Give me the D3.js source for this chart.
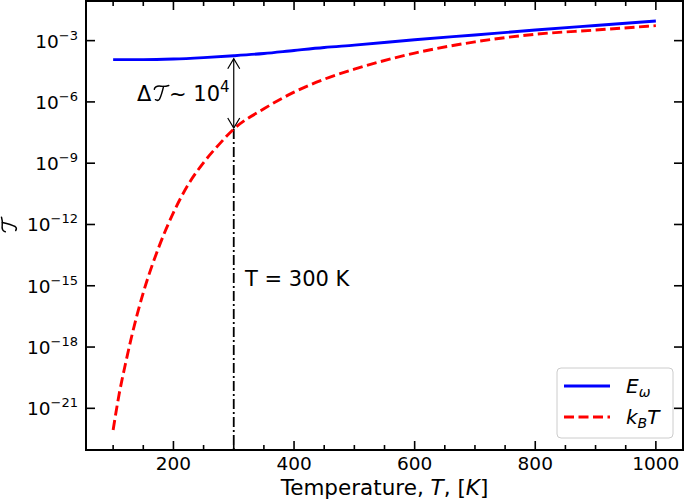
<!DOCTYPE html>
<html>
<head>
<meta charset="utf-8">
<script src="https://cdn.jsdelivr.net/npm/d3@7"></script>
<style>
  body { margin: 0; background: #fff; }
  text { font-family: "DejaVu Sans", sans-serif; fill: #000; }
</style>
</head>
<body>
<svg id="chart" width="685" height="501"></svg>
<script>
// values
var temps = [100, 150, 200, 250, 300, 350, 400, 450, 500, 600, 700, 800, 900, 1000];
var eOmega = [1.17e-4, 1.17e-4, 1.26e-4, 1.48e-4, 1.82e-4, 2.34e-4, 3.3e-4, 4.6e-4, 6.0e-4,
              1.1e-3, 1.9e-3, 3.3e-3, 5.5e-3, 9.1e-3];

var tempsKT = [100, 110, 120, 130, 140, 150, 175, 200, 225, 250, 275, 300, 350, 400, 450,
               500, 600, 700, 800, 900, 1000];
var kbT = [8.7e-23, 5.0e-21, 1.32e-19, 2.7e-18, 4.1e-17, 4.6e-16, 6.8e-14, 3.8e-12,
           9.5e-11, 1.07e-9, 7.9e-9, 4.7e-8, 4.6e-7, 3.0e-6, 1.29e-5, 3.98e-5, 2.45e-4,
           8.7e-4, 2.05e-3, 3.3e-3, 5.4e-3];

var xTicks = [200, 400, 600, 800, 1000];
var xMinor = [100, 150, 250, 300, 350, 450, 500, 550, 650, 700, 750, 850, 900, 950];
var yTickExps = [-21, -18, -15, -12, -9, -6, -3];
var markT = 300;

var svg = d3.select("#chart");
var pLeft = 86, pRight = 683, pTop = 1, pBottom = 450;

var x = d3.scaleLinear().domain([55, 1045]).range([pLeft, pRight]);
var y = d3.scaleLog().domain([Math.pow(10, -23.04), Math.pow(10, -1.06)]).range([pBottom, pTop]);

// calligraphic T drawn as a small path (no math font available)
function calT(g, px, py, size, angle) {
  var s = d3.scaleLinear().domain([0, 1]).range([0, size]);
  var gl = g.append("g")
    .attr("transform", "translate(" + px + "," + py + ") rotate(" + (angle || 0) + ")")
    .attr("fill", "none").attr("stroke", "#000")
    .attr("stroke-width", size * 0.1).attr("stroke-linecap", "round");
  gl.append("path").attr("d",
    "M" + s(0.02) + "," + s(-0.74) +
    "C" + s(0.08) + "," + s(-0.95) + " " + s(0.28) + "," + s(-0.98) + " " + s(0.48) + "," + s(-0.95) +
    "C" + s(0.68) + "," + s(-0.92) + " " + s(0.86) + "," + s(-0.95) + " " + s(1.02) + "," + s(-1.0));
  gl.append("path").attr("d",
    "M" + s(0.66) + "," + s(-0.94) +
    "C" + s(0.58) + "," + s(-0.6) + " " + s(0.48) + "," + s(-0.25) + " " + s(0.38) + "," + s(-0.06) +
    "C" + s(0.32) + "," + s(0.03) + " " + s(0.2) + "," + s(0.04) + " " + s(0.1) + "," + s(-0.02));
}

svg.append("defs").append("clipPath").attr("id", "clip")
  .append("rect").attr("x", pLeft).attr("y", pTop).attr("width", pRight - pLeft).attr("height", pBottom - pTop);

var plot = svg.append("g").attr("clip-path", "url(#clip)");

var line = d3.line().curve(d3.curveMonotoneX);

// vertical marker at T = 300 K
var redAt300 = kbT[tempsKT.indexOf(markT)];
var blueAt300 = eOmega[temps.indexOf(markT)];
plot.append("line")
  .attr("x1", x(markT)).attr("x2", x(markT))
  .attr("y1", y(redAt300)).attr("y2", pBottom)
  .attr("stroke", "#000").attr("stroke-width", 1.8)
  .attr("stroke-dasharray", "10,3,2,3");

plot.append("path")
  .attr("d", line(temps.map(function(t, i) { return [x(t), y(eOmega[i])]; })))
  .attr("fill", "none").attr("stroke", "#0000ff").attr("stroke-width", 2.9);

plot.append("path")
  .attr("d", line(tempsKT.map(function(t, i) { return [x(t), y(kbT[i])]; })))
  .attr("fill", "none").attr("stroke", "#ff0000").attr("stroke-width", 2.9)
  .attr("stroke-dasharray", "10,4.5");

// double arrow between the curves
var ax = x(markT), ay1 = y(blueAt300) + 3, ay2 = y(redAt300) - 1;
var arrow = svg.append("g").attr("fill", "none").attr("stroke", "#000").attr("stroke-width", 1.2);
arrow.append("line").attr("x1", ax).attr("x2", ax).attr("y1", ay1).attr("y2", ay2);
arrow.append("path").attr("d", "M" + (ax - 6) + "," + (ay1 + 10) + "L" + ax + "," + ay1 + "L" + (ax + 6) + "," + (ay1 + 10));
arrow.append("path").attr("d", "M" + (ax - 6) + "," + (ay2 - 10) + "L" + ax + "," + ay2 + "L" + (ax + 6) + "," + (ay2 - 10));

svg.append("text").attr("x", 137).attr("y", 101).style("font-size", "21px").text("Δ");
calT(svg, 154, 100, 14.5, 0);
var dt = svg.append("text").attr("x", 169).attr("y", 101).style("font-size", "21px");
dt.append("tspan").text("~ 10");
dt.append("tspan").attr("dy", -9).style("font-size", "15px").text("4");

svg.append("text").attr("x", 245).attr("y", 286).style("font-size", "21px").text("T = 300 K");

// frame
svg.append("rect").attr("x", pLeft).attr("y", pTop).attr("width", pRight - pLeft).attr("height", pBottom - pTop)
  .attr("fill", "none").attr("stroke", "#000").attr("stroke-width", 2);

// ticks pointing inwards on all four sides
var ticks = svg.append("g").attr("stroke", "#000").attr("stroke-width", 1.6);
xTicks.forEach(function(t) {
  ticks.append("line").attr("x1", x(t)).attr("x2", x(t)).attr("y1", pBottom).attr("y2", pBottom - 9);
  ticks.append("line").attr("x1", x(t)).attr("x2", x(t)).attr("y1", pTop).attr("y2", pTop + 9);
});
xMinor.forEach(function(t) {
  ticks.append("line").attr("x1", x(t)).attr("x2", x(t)).attr("y1", pBottom).attr("y2", pBottom - 5);
  ticks.append("line").attr("x1", x(t)).attr("x2", x(t)).attr("y1", pTop).attr("y2", pTop + 5);
});
yTickExps.forEach(function(e) {
  var yy = y(Math.pow(10, e));
  ticks.append("line").attr("x1", pLeft).attr("x2", pLeft + 9).attr("y1", yy).attr("y2", yy);
  ticks.append("line").attr("x1", pRight).attr("x2", pRight - 9).attr("y1", yy).attr("y2", yy);
});

svg.selectAll(".xlab").data(xTicks).enter().append("text")
  .attr("x", function(d) { return x(d); }).attr("y", 470)
  .attr("text-anchor", "middle").style("font-size", "18.5px")
  .text(function(d) { return d; });

yTickExps.forEach(function(e) {
  var t = svg.append("text").attr("x", 78).attr("y", y(Math.pow(10, e)) + 7)
    .attr("text-anchor", "end").style("font-size", "18.5px");
  t.append("tspan").text("10");
  t.append("tspan").attr("dy", -8).style("font-size", "13px").text("\u2212" + (-e));
});

var xl = svg.append("text").attr("x", (pLeft + pRight) / 2).attr("y", 495)
  .attr("text-anchor", "middle").style("font-size", "21.5px");
xl.append("tspan").text("Temperature, ");
xl.append("tspan").style("font-style", "italic").text("T");
xl.append("tspan").text(", [");
xl.append("tspan").style("font-style", "italic").text("K");
xl.append("tspan").text("]");

// y label: calligraphic T, rotated
calT(svg, 16, 232, 14.5, -90);

// legend
var lg = svg.append("g");
lg.append("rect").attr("x", 557).attr("y", 368).attr("width", 116).attr("height", 70).attr("rx", 4)
  .attr("fill", "#fff").attr("fill-opacity", 0.8).attr("stroke", "#cccccc").attr("stroke-width", 1);
lg.append("line").attr("x1", 564).attr("x2", 610).attr("y1", 386).attr("y2", 386)
  .attr("stroke", "#0000ff").attr("stroke-width", 2.9);
lg.append("line").attr("x1", 564).attr("x2", 610).attr("y1", 417).attr("y2", 417)
  .attr("stroke", "#ff0000").attr("stroke-width", 2.9).attr("stroke-dasharray", "10,4.5");
var l1 = lg.append("text").attr("x", 626).attr("y", 393).style("font-size", "20px").style("font-style", "italic");
l1.append("tspan").text("E");
l1.append("tspan").attr("dy", 4).style("font-size", "14px").text("ω");
var l2 = lg.append("text").attr("x", 626).attr("y", 424).style("font-size", "20px").style("font-style", "italic");
l2.append("tspan").text("k");
l2.append("tspan").attr("dy", 4).style("font-size", "14px").text("B");
l2.append("tspan").attr("dy", -4).text("T");
</script>
</body>
</html>
